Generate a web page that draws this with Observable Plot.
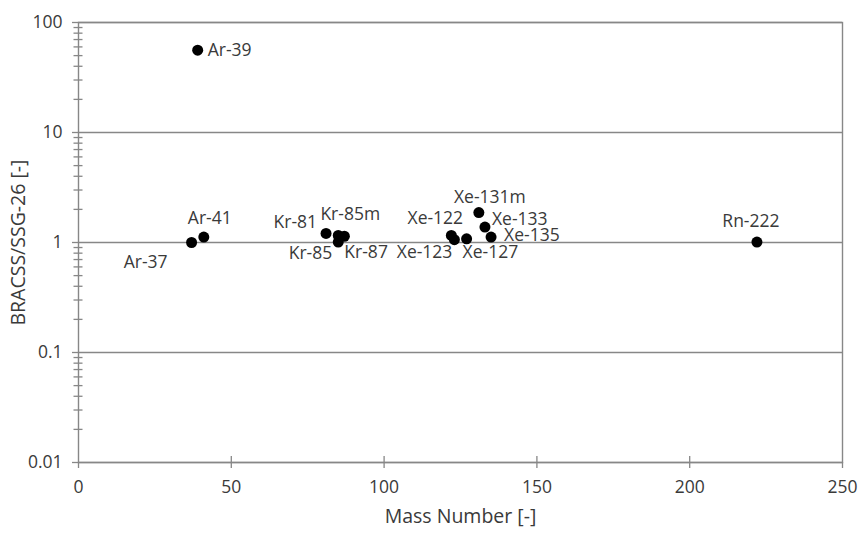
<!DOCTYPE html>
<html><head><meta charset="utf-8">
<script src="https://cdn.jsdelivr.net/npm/d3@7"></script>
<script src="https://cdn.jsdelivr.net/npm/@observablehq/plot@0.6"></script>
<style>body{margin:0;background:#fff;}</style>
</head><body><div id="chart"></div>
<script>
const isotopes = ["Ar-37","Ar-39","Ar-41","Kr-81","Kr-85","Kr-85m","Kr-87","Xe-122","Xe-123","Xe-127","Xe-131m","Xe-133","Xe-135","Rn-222"];
const massNumbers = [37,39,41,81,85,85,87,122,123,127,131,133,135,222];
const ratios = [1.0,56,1.12,1.21,1.01,1.16,1.14,1.16,1.06,1.08,1.87,1.38,1.12,1.01];
const yTicks = [0.01,0.1,1,10,100];
const yTickLabels = ["0.01","0.1","1","10","100"];
const xTicks = [0,50,100,150,200,250];
const xTitle = "Mass Number [-]";
const yTitle = "BRACSS/SSG-26 [-]";

// label placement (style): [dx, dy, anchor]
const placement = {
  "Ar-37":[-24,20,"end"], "Ar-39":[10,0,"start"], "Ar-41":[6,-19,"middle"],
  "Kr-81":[-9,-11,"end"], "Kr-85":[-6,11,"end"], "Kr-85m":[12,-21,"middle"], "Kr-87":[0,16,"start"],
  "Xe-122":[-16,-17,"middle"], "Xe-123":[-2,13,"end"], "Xe-127":[-4,14,"start"],
  "Xe-131m":[11,-15,"middle"], "Xe-133":[7,-8,"start"], "Xe-135":[13,-2,"start"],
  "Rn-222":[-6,-21,"middle"]
};

const data = isotopes.map((name,i)=>({name, mass: massNumbers[i], ratio: ratios[i]}));
const gray = "#878787";
const txt = "#3a3a3a";
const minor = d3.range(-2,2).flatMap(k => d3.range(2,10).map(m => m*Math.pow(10,k)));

const labelMarks = data.map(d => {
  const [dx,dy,anchor] = placement[d.name];
  return Plot.text([d], {x:"mass", y:"ratio", text:"name", dx, dy, textAnchor: anchor, fill: txt, fontSize: 17.5});
});

const chart = Plot.plot({
  width: 859, height: 533,
  marginLeft: 78, marginRight: 17, marginTop: 22, marginBottom: 71,
  style: {fontFamily: "Open Sans", fontSize: "17px", color: txt, background: "#fff"},
  x: {domain:[0,250]},
  y: {type:"log", domain:[0.01,100]},
  marks: [
    Plot.ruleY(yTicks, {stroke: gray, strokeWidth: 1.4}),
    Plot.frame({stroke: gray, strokeWidth: 1.4}),
    Plot.axisY(yTicks, {tickSize: 6, stroke: gray, strokeWidth: 1.3, tickPadding: 10,
      tickFormat: d => yTickLabels[yTicks.indexOf(d)], fill: txt, fontSize: 17.5, label: null}),
    Plot.axisY(minor, {tickSize: 9, dx: 4.5, stroke: gray, strokeWidth: 1.3, tickFormat: () => "", label: null}),
    Plot.axisX(xTicks, {tickSize: 6, stroke: gray, strokeWidth: 1.3, tickPadding: 12, fill: txt, fontSize: 17.5, label: null}),
    Plot.axisX([50,100,150,200], {tickSize: 6, dy: -6, stroke: gray, strokeWidth: 1.3, tickFormat: () => "", label: null}),
    Plot.text([xTitle], {frameAnchor: "bottom", dy: 60, fontSize: 19.5, fill: txt}),
    Plot.text([yTitle], {frameAnchor: "left", dx: -60, rotate: -90, textAnchor: "middle", fontSize: 19.5, fill: txt}),
    Plot.dot(data, {x:"mass", y:"ratio", r:5.5, fill:"#000", stroke:"none"}),
    ...labelMarks
  ]
});
document.getElementById("chart").appendChild(chart);
</script>
</body></html>
